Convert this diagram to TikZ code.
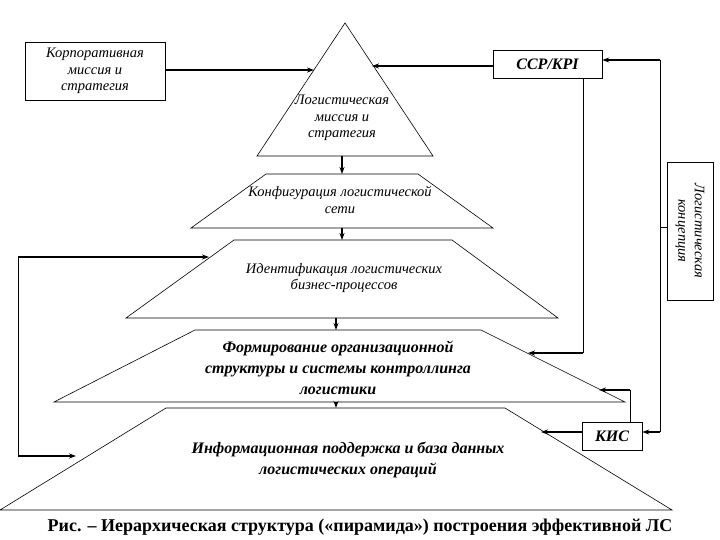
\documentclass[tikz,border=0pt]{standalone}
\usepackage{fontspec}
\setmainfont{Liberation Serif}
\usetikzlibrary{arrows.meta}
\begin{document}
\begin{tikzpicture}[x=1pt,y=-1pt,
  shp/.style={draw,line width=0.6pt},
  con/.style={line width=1.2pt,-{Stealth[length=7pt,width=5pt]}},
  ln/.style={line width=1pt},
  txt/.style={font=\fontsize{14.5}{16.5}\selectfont\itshape,align=center},
  btxt/.style={font=\fontsize{16}{21}\selectfont\bfseries\itshape,align=center}]
\useasboundingbox (0,0) rectangle (720,540);
% pyramid
\draw[shp] (345,23) -- (433,156) -- (257,156) -- cycle;
\draw[shp] (266,174) -- (418,174) -- (493,228) -- (191,228) -- cycle;
\draw[shp] (234,240) -- (452,240) -- (558,318) -- (126,318) -- cycle;
\draw[shp] (195,330) -- (481,330) -- (625,402) -- (54,402) -- cycle;
\draw[shp] (166,408) -- (505,408) -- (672,510) -- (0,510) -- cycle;
\node[txt] (t1) at (342,118) {Логистическая\\миссия и\\стратегия};
\node[txt] (t2) at (340,200) {Конфигурация логистической\\сети};
\node[txt] (t3) at (344,278) {Идентификация логистических\\бизнес-процессов};
\node[btxt] (t4) at (338,368) {Формирование организационной\\структуры и системы контроллинга\\логистики};
\node[btxt] (t5) at (348,460) {Информационная поддержка и база данных\\логистических операций};
\coordinate (a1) at (342,156); \coordinate (b1) at (342,174);
\coordinate (a2) at (342,228); \coordinate (b2) at (342,240);
\coordinate (a3) at (336,318); \coordinate (b3) at (336,330);
\coordinate (a4) at (336,402); \coordinate (b4) at (336,408);
\draw[con] (a1) -- (b1); \draw[con] (a2) -- (b2);
\draw[con] (a3) -- (b3); \draw[con] (a4) -- (b4);
% boxes
\node[shp,txt,minimum width=140pt,minimum height=58pt,inner sep=1pt] (corp) at (95,71) {Корпоративная\\миссия и\\стратегия};
\node[shp,btxt,minimum width=109pt,minimum height=28pt] (ccp) at (547.5,64) {CCP/KPI};
\node[shp,btxt,minimum width=60pt,minimum height=28pt] (kis) at (612,436) {КИС};
\node[shp,txt,minimum width=138pt,minimum height=46pt,rotate=-90,inner sep=1pt] (conc) at (690,231) {Логистическая\\концепция};
% connectors
\coordinate (tl) at (314,70);
\draw[con] (corp.east |- tl) -- (tl);
\coordinate (tr) at (372,66);
\draw[con] (ccp.west |- tr) -- (tr);
\coordinate (c1) at (583,78); \coordinate (c2) at (583,353); \coordinate (c3) at (528,353);
\draw[ln] (c1) -- (c2); \draw[con] (c2) -- (c3);
\coordinate (r1) at (660,60); \coordinate (r2) at (660,432); \coordinate (r3) at (660,228); \coordinate (r4) at (667,228);
\draw[con] (r1) -- (ccp.east |- r1);
\draw[ln] (r1) -- (r2); \draw[con] (r2) -- (kis.east |- r2);
\draw[ln] (r3) -- (r4);
\coordinate (k1) at (541,432);
\draw[con] (kis.west |- k1) -- (k1);
\coordinate (k2) at (630,390); \coordinate (k3) at (599,390);
\draw[ln] (kis.north -| k2) -- (k2); \draw[con] (k2) -- (k3);
\coordinate (l1) at (209,257); \coordinate (l2) at (18,257); \coordinate (l3) at (18,456); \coordinate (l4) at (76,456);
\draw[con] (l2) -- (l1); \draw[ln] (l2) -- (l3); \draw[con] (l3) -- (l4);
\node[font=\fontsize{18}{20}\selectfont\bfseries] (cap) at (360,527) {Рис. – Иерархическая структура («пирамида») построения эффективной ЛС};
\end{tikzpicture}
\end{document}
